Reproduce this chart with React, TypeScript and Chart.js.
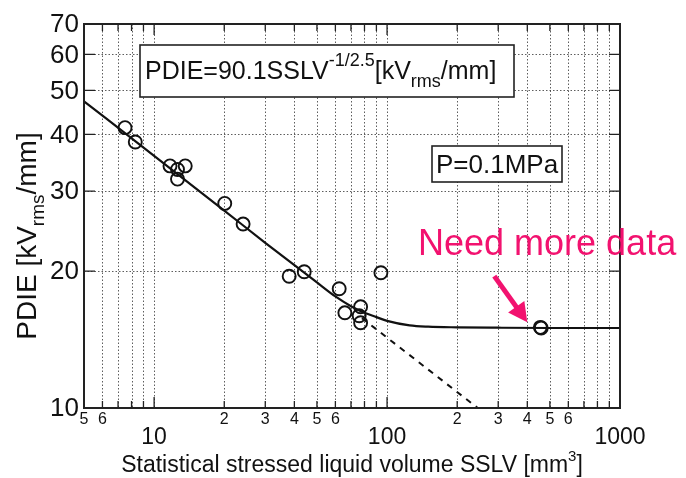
import React, { useEffect, useRef } from "react";
import { Chart, registerables } from "chart.js";

Chart.register(...registerables);

// ---- Data ----
const sslvMeasured = [7.5, 8.3, 11.7, 12.6, 12.6, 13.6, 20.1, 24.1, 38.0, 44.1, 62.3, 65.9, 77.0, 75.9, 77.0, 94.1, 455, 459];
const pdieMeasured = [41.4, 38.5, 34.1, 33.5, 31.9, 34.1, 28.2, 25.4, 19.5, 19.95, 18.3, 16.2, 16.7, 15.96, 15.4, 19.85, 15.05, 15.0];

const fitSslv = [5, 10, 20, 30, 50, 60, 70, 80, 90, 100, 125, 150, 200, 300, 500, 1000];
const fitPdie = [47.3, 35.9, 27.2, 23.1, 18.9, 17.6, 16.75, 16.2, 15.85, 15.55, 15.2, 15.1, 15.05, 15.02, 15.0, 15.0];

const extrapSslv = [78, 245];
const extrapPdie = [15.77, 10.0];

const xGridValues = [6, 7, 8, 9, 10, 20, 30, 40, 50, 60, 70, 80, 90, 100, 200, 300, 400, 500, 600, 700, 800, 900];
const xMajorValues = [10, 100, 1000];
const xMajorText = ["10", "100", "1000"];
const xMinorValues = [5, 6, 20, 30, 40, 50, 60, 200, 300, 400, 500, 600];
const xMinorText = ["5", "6", "2", "3", "4", "5", "6", "2", "3", "4", "5", "6"];
const yTickValues = [10, 20, 30, 40, 50, 60, 70];
const yTickText = ["10", "20", "30", "40", "50", "60", "70"];
const yGridValues = [20, 30, 40, 50, 60];

const FONT = '"Liberation Sans", Arial, sans-serif';
const PINK = "#f2126f";

type Seg = { t: string; size: number; dy: number };

function richWidth(ctx: CanvasRenderingContext2D, segs: Seg[]) {
  let w = 0;
  for (const s of segs) {
    ctx.font = `${s.size}px ${FONT}`;
    w += ctx.measureText(s.t).width;
  }
  return w;
}

function drawRich(ctx: CanvasRenderingContext2D, x: number, y: number, segs: Seg[]) {
  let cx = x;
  ctx.textAlign = "left";
  ctx.textBaseline = "alphabetic";
  for (const s of segs) {
    ctx.font = `${s.size}px ${FONT}`;
    ctx.fillText(s.t, cx, y + s.dy);
    cx += ctx.measureText(s.t).width;
  }
  return cx;
}

const decorPlugin = {
  id: "decor",
  beforeDatasetsDraw(chart: any) {
    const { ctx, chartArea: a, scales } = chart;
    const xs = scales.x;
    const ys = scales.y;
    ctx.save();
    ctx.strokeStyle = "rgba(40,40,40,0.75)";
    ctx.lineWidth = 1;
    ctx.setLineDash([1.5, 2]);
    for (const v of xGridValues) {
      const px = Math.round(xs.getPixelForValue(v)) + 0.5;
      ctx.beginPath();
      ctx.moveTo(px, a.top);
      ctx.lineTo(px, a.bottom);
      ctx.stroke();
    }
    for (const v of yGridValues) {
      const py = Math.round(ys.getPixelForValue(v)) + 0.5;
      ctx.beginPath();
      ctx.moveTo(a.left, py);
      ctx.lineTo(a.right, py);
      ctx.stroke();
    }
    ctx.restore();
  },
  afterDatasetsDraw(chart: any) {
    const { ctx, chartArea: a, scales } = chart;
    const xs = scales.x;
    const ys = scales.y;
    ctx.save();
    ctx.setLineDash([]);

    // frame
    ctx.strokeStyle = "#222";
    ctx.lineWidth = 2;
    ctx.strokeRect(a.left, a.top, a.right - a.left, a.bottom - a.top);

    // inward ticks
    ctx.lineWidth = 1.3;
    for (const v of xGridValues) {
      const px = xs.getPixelForValue(v);
      const len = xMajorValues.includes(v) ? 11 : 7;
      ctx.beginPath();
      ctx.moveTo(px, a.bottom);
      ctx.lineTo(px, a.bottom - len);
      ctx.moveTo(px, a.top);
      ctx.lineTo(px, a.top + len);
      ctx.stroke();
    }
    for (const v of yGridValues) {
      const py = ys.getPixelForValue(v);
      ctx.beginPath();
      ctx.moveTo(a.left, py);
      ctx.lineTo(a.left + 11, py);
      ctx.moveTo(a.right, py);
      ctx.lineTo(a.right - 11, py);
      ctx.stroke();
    }

    // tick labels
    ctx.fillStyle = "#111";
    ctx.textAlign = "right";
    ctx.textBaseline = "middle";
    ctx.font = `26px ${FONT}`;
    yTickValues.forEach((v, i) => {
      ctx.fillText(yTickText[i], a.left - 5, ys.getPixelForValue(v) + 1);
    });
    ctx.textAlign = "center";
    ctx.font = `16px ${FONT}`;
    xMinorValues.forEach((v, i) => {
      ctx.fillText(xMinorText[i], xs.getPixelForValue(v), a.bottom + 12);
    });
    ctx.font = `23px ${FONT}`;
    xMajorValues.forEach((v, i) => {
      ctx.fillText(xMajorText[i], xs.getPixelForValue(v), a.bottom + 30);
    });

    // x title
    const xt: Seg[] = [
      { t: "Statistical stressed liquid volume SSLV [mm", size: 23, dy: 0 },
      { t: "3", size: 15, dy: -11 },
      { t: "]", size: 23, dy: 0 },
    ];
    const xw = richWidth(ctx, xt);
    drawRich(ctx, (a.left + a.right) / 2 - xw / 2, 472, xt);

    // y title (rotated)
    const yt: Seg[] = [
      { t: "PDIE [kV", size: 28, dy: 0 },
      { t: "rms", size: 19, dy: 8 },
      { t: "/mm]", size: 28, dy: 0 },
    ];
    const yw = richWidth(ctx, yt);
    ctx.save();
    ctx.translate(36, 236);
    ctx.rotate(-Math.PI / 2);
    drawRich(ctx, -yw / 2, 0, yt);
    ctx.restore();

    // formula box
    ctx.fillStyle = "#fff";
    ctx.fillRect(140, 45, 374, 52);
    ctx.strokeStyle = "#222";
    ctx.lineWidth = 1.6;
    ctx.strokeRect(140, 45, 374, 52);
    ctx.fillStyle = "#111";
    drawRich(ctx, 145, 79, [
      { t: "PDIE=90.1SSLV", size: 25, dy: 0 },
      { t: "-1/2.5", size: 18, dy: -13 },
      { t: "[kV", size: 25, dy: 0 },
      { t: "rms", size: 18, dy: 8 },
      { t: "/mm]", size: 25, dy: 0 },
    ]);

    // pressure box
    ctx.fillStyle = "#fff";
    ctx.fillRect(432, 146, 130, 36);
    ctx.strokeRect(432, 146, 130, 36);
    ctx.fillStyle = "#111";
    drawRich(ctx, 436, 173, [{ t: "P=0.1MPa", size: 26, dy: 0 }]);

    // "Need more data" annotation
    ctx.fillStyle = PINK;
    drawRich(ctx, 418, 255, [{ t: "Need more data", size: 36, dy: 0 }]);

    // arrow pointing at the large-volume measurement
    const tipX = xs.getPixelForValue(400);
    const tipY = ys.getPixelForValue(15.45);
    const tailX = tipX - 33;
    const tailY = tipY - 46;
    const dx = tipX - tailX;
    const dy = tipY - tailY;
    const len = Math.hypot(dx, dy);
    const ux = dx / len;
    const uy = dy / len;
    const headLen = 19;
    const headHalf = 10;
    const bx = tipX - ux * headLen;
    const by = tipY - uy * headLen;
    ctx.strokeStyle = PINK;
    ctx.lineWidth = 5;
    ctx.beginPath();
    ctx.moveTo(tailX, tailY);
    ctx.lineTo(bx + ux * 2, by + uy * 2);
    ctx.stroke();
    ctx.beginPath();
    ctx.moveTo(tipX, tipY);
    ctx.lineTo(bx - uy * headHalf, by + ux * headHalf);
    ctx.lineTo(bx + uy * headHalf, by - ux * headHalf);
    ctx.closePath();
    ctx.fill();

    ctx.restore();
  },
};

export default function App() {
  const ref = useRef<HTMLCanvasElement>(null);

  useEffect(() => {
    const canvas = ref.current;
    if (!canvas) return;
    const chart = new Chart(canvas, {
      type: "scatter",
      data: {
        datasets: [
          {
            label: "Fit",
            data: fitSslv.map((x, i) => ({ x, y: fitPdie[i] })),
            showLine: true,
            borderColor: "#111",
            borderWidth: 2.2,
            pointRadius: 0,
            cubicInterpolationMode: "monotone",
            fill: false,
          },
          {
            label: "Extrapolation",
            data: extrapSslv.map((x, i) => ({ x, y: extrapPdie[i] })),
            showLine: true,
            borderColor: "#111",
            borderWidth: 2,
            borderDash: [6, 6],
            pointRadius: 0,
            fill: false,
          },
          {
            label: "Measured",
            data: sslvMeasured.map((x, i) => ({ x, y: pdieMeasured[i] })),
            showLine: false,
            pointRadius: 6.5,
            pointBorderWidth: 1.9,
            pointBorderColor: "#111",
            pointBackgroundColor: "rgba(0,0,0,0)",
            borderColor: "#111",
            backgroundColor: "rgba(0,0,0,0)",
          },
        ],
      },
      options: {
        responsive: false,
        animation: false,
        devicePixelRatio: 1,
        layout: { padding: { left: 84, right: 66, top: 24, bottom: 70 } },
        plugins: {
          legend: { display: false },
          tooltip: { enabled: false },
        },
        scales: {
          x: { type: "logarithmic", min: 5, max: 1000, display: false },
          y: { type: "logarithmic", min: 10, max: 70, display: false },
        },
      },
      plugins: [decorPlugin],
    } as any);
    return () => chart.destroy();
  }, []);

  return (
    <div style={{ position: "fixed", left: 0, top: 0, width: 686, height: 478, background: "#fff" }}>
      <canvas ref={ref} width={686} height={478} style={{ display: "block", width: 686, height: 478 }} />
    </div>
  );
}
